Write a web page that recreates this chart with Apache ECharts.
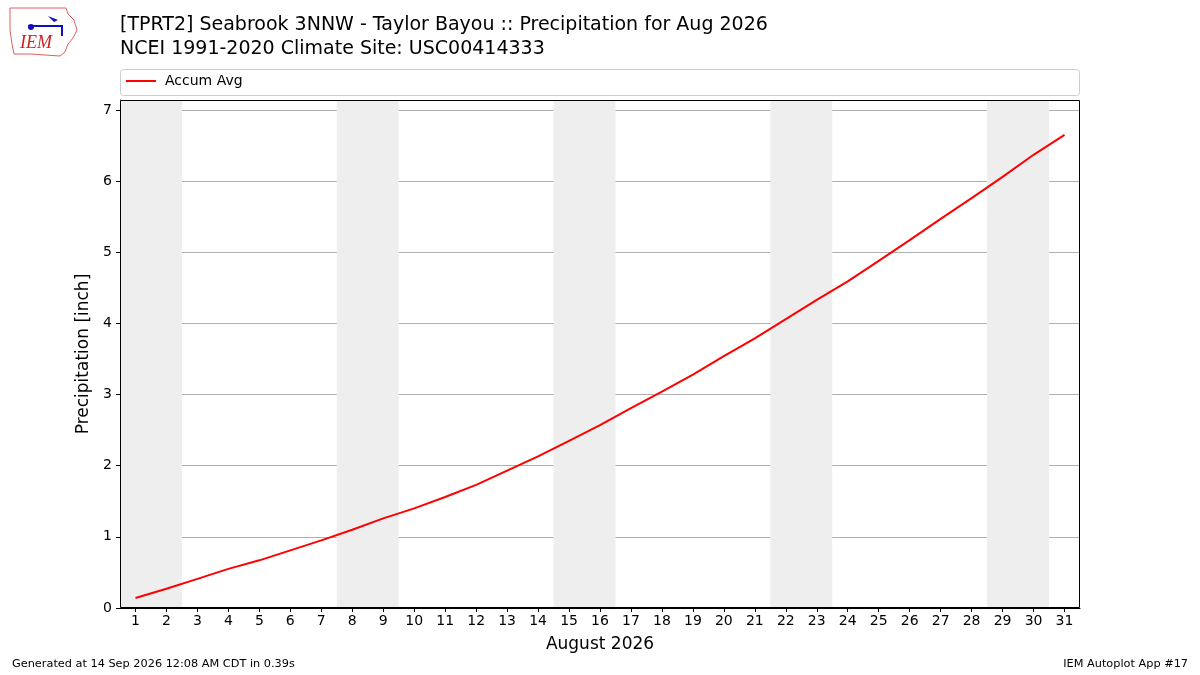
<!DOCTYPE html>
<html>
<head>
<meta charset="utf-8">
<script src="https://cdn.jsdelivr.net/npm/echarts@6/dist/echarts.min.js"></script>
<style>
  html, body { margin: 0; padding: 0; background: #fff; }
  #chart { width: 1200px; height: 675px; }
</style>
</head>
<body>
<div id="chart"></div>
<script>
// days of August 2026
const days = Array.from({ length: 31 }, (_, i) => i + 1)
// accumulated average precipitation (inch)
const accumAvg = [0.14, 0.27, 0.41, 0.55, 0.67, 0.81, 0.95, 1.10, 1.26, 1.40,
  1.56, 1.73, 1.93, 2.13, 2.35, 2.57, 2.81, 3.04, 3.28, 3.54,
  3.79, 4.06, 4.33, 4.59, 4.88, 5.17, 5.47, 5.76, 6.06, 6.37, 6.65]
// saturdays -> shaded weekend (sat + sun)
const weekendStarts = [1, 8, 15, 22, 29]
const yTicks = [0, 1, 2, 3, 4, 5, 6, 7]

const font = 'DejaVu Sans'
const myChart = echarts.init(document.getElementById('chart'))

myChart.setOption({
  animation: false,
  textStyle: { fontFamily: font },
  title: {
    text: '[TPRT2] Seabrook 3NNW - Taylor Bayou :: Precipitation for Aug 2026\nNCEI 1991-2020 Climate Site: USC00414333',
    left: 115,
    top: 8,
    textStyle: { fontSize: 19, fontWeight: 'normal', color: '#000', lineHeight: 24, fontFamily: font }
  },
  legend: {
    left: 120,
    top: 69,
    itemWidth: 30,
    itemHeight: 2,
    itemGap: 10,
    textStyle: { fontSize: 14, color: '#000', fontFamily: font, padding: [0, 0, 0, 4] },
    data: ['Accum Avg']
  },
  grid: {
    left: 120,
    right: 120,
    top: 100,
    bottom: 67,
    show: false
  },
  xAxis: {
    type: 'value',
    min: 0.5,
    max: 31.5,
    name: 'August 2026',
    nameLocation: 'middle',
    nameGap: 28,
    nameTextStyle: { fontSize: 17, color: '#000' },
    axisLine: { onZero: false, lineStyle: { color: '#000' } },
    axisTick: { customValues: days, length: 4, lineStyle: { color: '#000' } },
    axisLabel: { customValues: days, fontSize: 14, color: '#000', margin: 6 },
    splitLine: { show: false }
  },
  yAxis: {
    type: 'value',
    min: 0,
    max: 7.14,
    interval: 1,
    name: 'Precipitation [inch]',
    nameLocation: 'middle',
    nameGap: 21,
    nameTextStyle: { fontSize: 17, color: '#000' },
    axisLine: { show: true, lineStyle: { color: '#000' } },
    axisTick: { customValues: yTicks, length: 4, lineStyle: { color: '#000' } },
    axisLabel: { customValues: yTicks, fontSize: 14, color: '#000', margin: 8 },
    splitLine: { lineStyle: { color: '#b0b0b0', width: 1 } }
  },
  series: [
    {
      name: 'Accum Avg',
      type: 'line',
      data: days.map((d, i) => [d, accumAvg[i]]),
      symbol: 'none',
      lineStyle: { color: '#ff0000', width: 2 },
      itemStyle: { color: '#ff0000' },
      markArea: {
        silent: true,
        itemStyle: { color: '#eeeeee' },
        data: weekendStarts.map(d => [{ xAxis: d - 0.5 }, { xAxis: d + 1.5 }])
      },
      z: 3
    }
  ],
  graphic: [
    // plot frame on top of the shading
    {
      type: 'rect',
      shape: { x: 120.5, y: 100.5, width: 959, height: 507 },
      style: { fill: 'none', stroke: '#000', lineWidth: 1 },
      z: 100
    },
    // legend frame
    {
      type: 'rect',
      shape: { x: 120.5, y: 69.5, width: 959, height: 26, r: 3 },
      style: { fill: 'none', stroke: '#cccccc', lineWidth: 1 },
      z: -1
    },
    // rough IEM logo
    {
      type: 'polyline',
      shape: {
        points: [[10, 8], [66, 8], [68, 14], [74, 20], [77, 30], [73, 38], [68, 44], [65, 52], [60, 56], [30, 54], [14, 54], [12, 44], [10, 30], [10, 8]]
      },
      style: { stroke: '#e06060', fill: 'none', lineWidth: 1 }
    },
    {
      type: 'polyline',
      shape: { points: [[28, 26], [62, 26], [62, 36]] },
      style: { stroke: '#1010c0', lineWidth: 2, fill: 'none' }
    },
    {
      type: 'circle',
      shape: { cx: 31, cy: 27, r: 3 },
      style: { fill: '#1010c0' }
    },
    {
      type: 'polygon',
      shape: { points: [[48, 16], [58, 20], [54, 22]] },
      style: { fill: '#1010c0' }
    },
    {
      type: 'text',
      left: 20,
      top: 34,
      style: { text: 'IEM', fill: '#d02020', font: 'italic 18px "Liberation Serif"' }
    },
    // footer
    {
      type: 'text',
      left: 12,
      top: 659,
      style: { text: 'Generated at 14 Sep 2026 12:08 AM CDT in 0.39s', fill: '#000', font: '11.3px "DejaVu Sans"' }
    },
    {
      type: 'text',
      right: 12,
      top: 659,
      style: { text: 'IEM Autoplot App #17', fill: '#000', font: '11.3px "DejaVu Sans"' }
    }
  ]
})
</script>
</body>
</html>
